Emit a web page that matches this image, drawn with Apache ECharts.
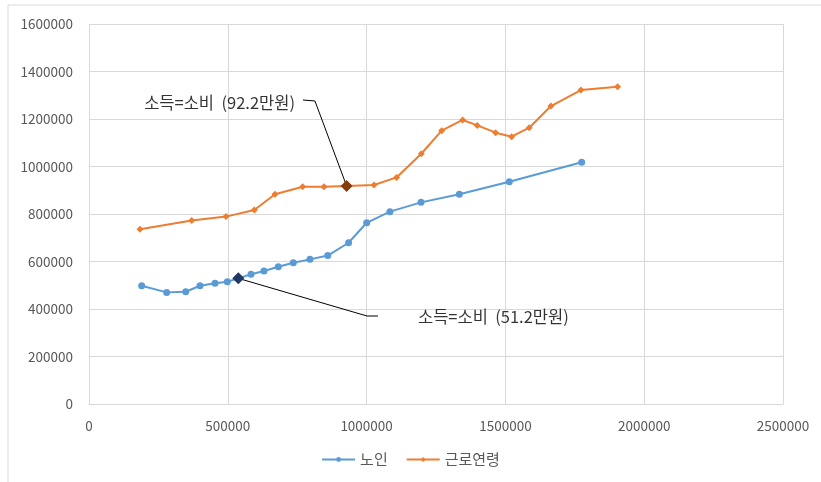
<!DOCTYPE html>
<html>
<head>
<meta charset="utf-8">
<script src="https://cdn.jsdelivr.net/npm/echarts@6/dist/echarts.min.js"></script>
<style>
html,body{margin:0;padding:0;background:#fff;}
#c{width:821px;height:482px;}
</style>
</head>
<body>
<div id="c"></div>
<script>
// 노인 (elderly): x = income, y = consumption
const elderX = [189800, 279800, 348300, 399800, 453900, 498200, 537900, 583500, 630400, 681900, 736000, 796000, 860000, 935000, 1000300, 1084000, 1196000, 1334000, 1514000, 1774700];
const elderY = [498000, 470000, 472800, 498000, 508000, 515000, 529000, 546000, 560000, 578000, 595000, 609000, 625000, 679000, 763000, 810000, 849000, 883000, 936000, 1017600];
// 근로연령 (working age)
const workX = [183700, 370000, 493500, 595500, 670000, 769700, 846500, 928000, 1026600, 1108000, 1197000, 1270400, 1346000, 1398700, 1464800, 1522500, 1586000, 1664000, 1772000, 1904000];
const workY = [735500, 773000, 789000, 817000, 883000, 915000, 915000, 918000, 922000, 954000, 1053800, 1151000, 1196000, 1173000, 1142500, 1125600, 1163500, 1254700, 1322000, 1336000];
// highlighted break-even points (income = consumption)
const elderBreak = [537900, 529000];
const workBreak = [928000, 918000];
const elderLabel = '소득=소비  (51.2만원)';
const workLabel = '소득=소비  (92.2만원)';
// annotation leader lines (data space)
const workLeader = [[770800, 1280000], [814000, 1275800], workBreak];
const elderLeader = [elderBreak, [1001400, 370500], [1041000, 370500]];
const workLabelAnchor = [742000, 1267000];
const elderLabelAnchor = [1185000, 366300];
const xTicks = [0, 2500000, 500000];
const yTicks = [0, 1600000, 200000];

const zip = (a, b) => a.map((v, i) => [v, b[i]]);
const font = '"Noto Sans CJK KR", "Noto Sans", sans-serif';

const chart = echarts.init(document.getElementById('c'));
chart.setOption({
  animation: false,
  backgroundColor: '#fff',
  grid: {left: 89, right: 38, top: 24, bottom: 78},
  xAxis: {
    type: 'value', min: xTicks[0], max: xTicks[1], interval: xTicks[2],
    axisLine: {show: true, lineStyle: {color: '#d9d9d9'}},
    axisTick: {show: false},
    splitLine: {lineStyle: {color: '#d9d9d9'}},
    axisLabel: {color: '#595959', fontSize: 13.5, fontFamily: font, margin: 15, formatter: v => String(v)}
  },
  yAxis: {
    type: 'value', min: yTicks[0], max: yTicks[1], interval: yTicks[2],
    axisLine: {show: false},
    axisTick: {show: false},
    splitLine: {lineStyle: {color: '#d9d9d9'}},
    axisLabel: {color: '#595959', fontSize: 13.5, fontFamily: font, margin: 16, formatter: v => String(v)}
  },
  legend: {
    bottom: 10, left: 'center', itemGap: 18, itemWidth: 33, itemHeight: 6,
    textStyle: {color: '#595959', fontSize: 15, fontFamily: font},
    data: ['노인', '근로연령']
  },
  graphic: [{
    type: 'rect', shape: {x: 8, y: 5, width: 830, height: 500},
    style: {fill: 'none', stroke: '#d9d9d9', lineWidth: 1}, silent: true, z: -1
  }],
  series: [
    {
      name: '노인', type: 'line', data: zip(elderX, elderY),
      symbol: 'circle', symbolSize: 7,
      lineStyle: {color: '#5B9BD5', width: 2},
      itemStyle: {color: '#5B9BD5'},
      markPoint: {
        symbol: 'diamond', symbolSize: 12, label: {show: false},
        itemStyle: {color: '#1F3864'},
        data: [{coord: elderBreak}]
      }
    },
    {
      name: '근로연령', type: 'line', data: zip(workX, workY),
      symbol: 'diamond', symbolSize: 7,
      lineStyle: {color: '#ED7D31', width: 2},
      itemStyle: {color: '#ED7D31'},
      markPoint: {
        symbol: 'diamond', symbolSize: 12, label: {show: false},
        itemStyle: {color: '#843C0C'},
        data: [{coord: workBreak}]
      }
    },
    {
      name: 'lead1', type: 'line', data: workLeader, symbol: 'none',
      lineStyle: {color: '#000', width: 1}, z: 1, silent: true
    },
    {
      name: 'lead2', type: 'line', data: elderLeader, symbol: 'none',
      lineStyle: {color: '#000', width: 1}, z: 1, silent: true
    },
    {
      name: 'labels', type: 'scatter', symbolSize: 0, silent: true,
      data: [
        {value: workLabelAnchor, label: {show: true, position: 'left', distance: 0, formatter: workLabel}},
        {value: elderLabelAnchor, label: {show: true, position: 'right', distance: 0, formatter: elderLabel}}
      ],
      label: {color: '#000', fontSize: 16.5, fontFamily: font}
    }
  ]
});
</script>
</body>
</html>
